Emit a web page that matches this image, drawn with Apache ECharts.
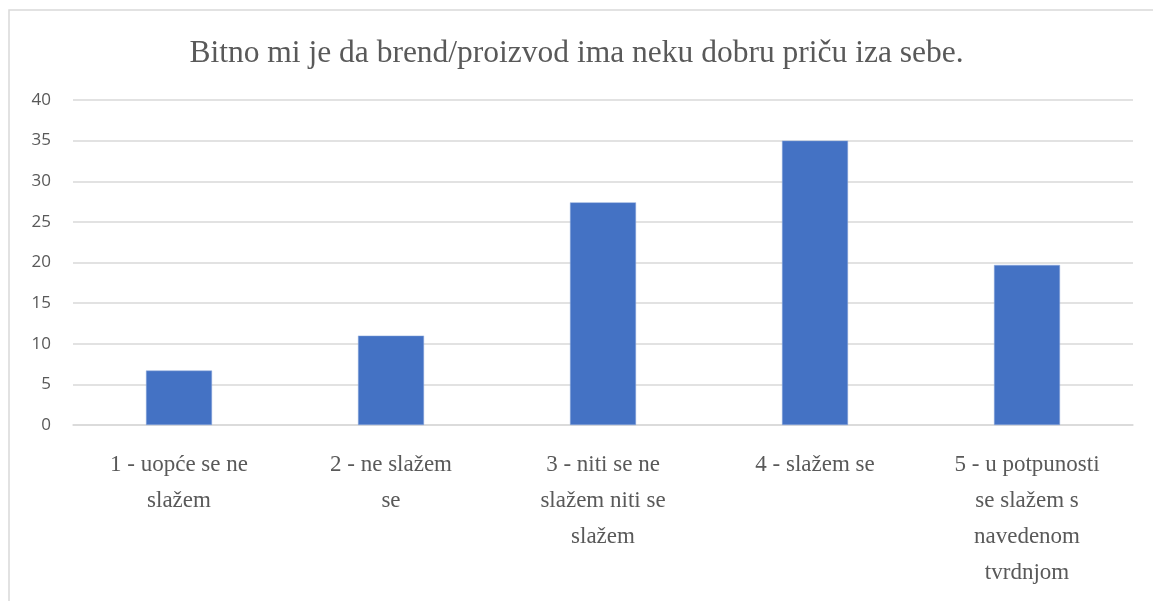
<!DOCTYPE html>
<html>
<head>
<meta charset="utf-8">
<script src="https://cdn.jsdelivr.net/npm/echarts@6/dist/echarts.min.js"></script>
<style>
html, body { margin: 0; padding: 0; background: #fff; }
#chart { width: 1153px; height: 601px; }
</style>
</head>
<body>
<div id="chart"></div>
<script>
var titleText = 'Bitno mi je da brend/proizvod ima neku dobru priču iza sebe.';
// kategorije (prelomi redaka kao na slici)
var categories = [
	'1 - uopće se ne\nslažem',
	'2 - ne slažem\nse',
	'3 - niti se ne\nslažem niti se\nslažem',
	'4 - slažem se',
	'5 - u potpunosti\nse slažem s\nnavedenom\ntvrdnjom'
];
var values = [6.7, 11, 27.4, 35, 19.7];

var myChart = echarts.init(document.getElementById('chart'));

myChart.setOption({
	backgroundColor: '#fff',
	animation: false,
	title: {
		text: titleText,
		left: 'center',
		top: 33,
		textStyle: {
			fontFamily: 'Liberation Serif',
			fontWeight: 'normal',
			fontSize: 31.5,
			color: '#595959'
		}
	},
	graphic: [{
		type: 'rect',
		shape: { x: 9, y: 10, width: 1300, height: 800 },
		style: { fill: 'none', stroke: '#d9d9d9', lineWidth: 1.5 },
		silent: true
	}],
	grid: { left: 73, right: 20, top: 100, bottom: 176 },
	xAxis: {
		type: 'category',
		data: categories,
		axisLine: { lineStyle: { color: '#d9d9d9', width: 1.5 } },
		axisTick: { show: false },
		axisLabel: {
			interval: 0,
			margin: 22,
			fontFamily: 'Liberation Serif',
			fontSize: 23,
			lineHeight: 36,
			color: '#595959',
			align: 'center'
		}
	},
	yAxis: {
		type: 'value',
		min: 0,
		max: 40,
		interval: 5,
		axisLine: { show: false },
		axisTick: { show: false },
		splitLine: { lineStyle: { color: '#d9d9d9', width: 1.5 } },
		axisLabel: {
			margin: 22,
			fontFamily: 'Open Sans',
			fontSize: 17,
			color: '#595959'
		}
	},
	series: [{
		type: 'bar',
		data: values,
		barWidth: 66,
		itemStyle: { color: '#4472C4', borderColor: '#8faadc', borderWidth: 0.5 }
	}]
});
</script>
</body>
</html>
